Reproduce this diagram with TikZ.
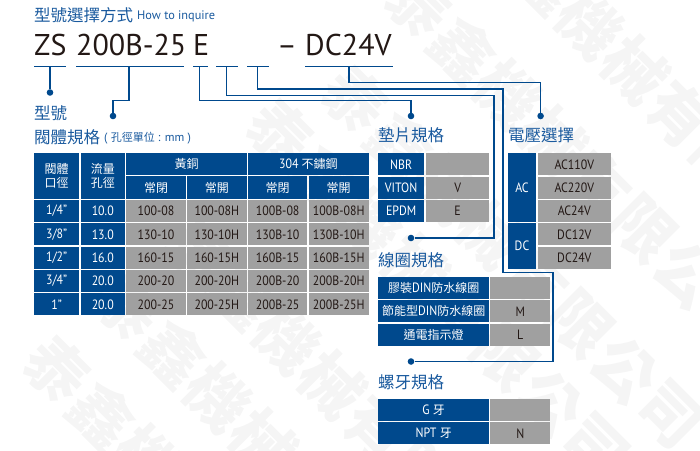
\documentclass[tikz,border=0pt]{standalone}
\usepackage{fontspec}
\setmainfont{PT Sans}[FakeStretch=0.88]
\newfontfamily\plainfont{PT Sans}
\newfontfamily\cjk{Noto Sans CJK TC}
\definecolor{bluecell}{HTML}{00498D}
\definecolor{graycell}{HTML}{A0A0A0}
\definecolor{titleblue}{HTML}{1A5A9E}
\definecolor{inkdark}{HTML}{231815}
\definecolor{wmark}{HTML}{F5F5F5}
\newcommand{\cellbox}[7]{%name,x0,y0,x1,y1,style,text
  \pgfmathsetmacro{\cw}{#4-#2}\pgfmathsetmacro{\chh}{#5-#3}
  \node[#6,minimum width=\cw pt,minimum height=\chh pt] (#1) at ({(#2+#4)/2},{(#3+#5)/2}) {#7};}
\newcommand{\wmband}[3]{%
  \foreach \ch [count=\i from 0] in {泰,鑫,機,械,有,限,公,司}{
    \node[wmtext] (wm#1-\i) at ({#2+45*\i},{#3+45*\i}) {\ch};}}
\tikzset{
  x=1pt,y=-1pt,
  wmtext/.style={rotate=-45,text=wmark,font=\cjk\bfseries\fontsize{62}{62}\selectfont,inner sep=0pt},
  bcell/.style={fill=bluecell,text=white,inner sep=0pt,align=center,font=\fontsize{13.5}{14}\selectfont},
  gcell/.style={fill=graycell,text=inkdark,inner sep=0pt,align=center,font=\fontsize{13.5}{14}\selectfont},
  sect/.style={text=titleblue,anchor=west,inner sep=0pt,font=\cjk\fontsize{16.5}{18}\selectfont},
  big/.style={text=inkdark,anchor=base west,inner sep=0pt,font=\plainfont\fontsize{30}{30}\selectfont},
  link/.style={draw=bluecell,line width=1.3pt},
  dot/.style={circle,fill=bluecell,inner sep=0pt,minimum size=6.6pt},
}
\newcommand{\ck}[1]{{\cjk\fontsize{12}{14}\selectfont #1}}
\begin{document}
\begin{tikzpicture}
\useasboundingbox (0,0) rectangle (700,450);
% watermark
\wmband{a}{500}{-65}
\wmband{g}{418}{5}
\wmband{b}{355}{100}
\wmband{f}{280}{133}
\wmband{c}{197}{250}
\wmband{d}{128}{308}
\wmband{e}{57}{370}
% heading
\node[sect] (head) at (34,15) {型號選擇方式};
\node[text=titleblue,anchor=west,inner sep=0pt,font=\plainfont\fontsize{12.3}{12}\selectfont] (headen) at (137,16.5) {How to inquire};
\node[big] (zs) at (34,55) {ZS};
\node[big] (model) at (76,55) {200B-25};
\node[big] (e) at (193,55) {E};
\node[big] (dash) at (277,55) {–};
\node[big] (dc) at (305,55) {DC24V};
% section titles
\node[sect] (t1) at (34,113) {型號};
\node[sect] (t2) at (34,137) {閥體規格};
\node[text=titleblue,anchor=west,inner sep=0pt,font=\plainfont\fontsize{12}{12}\selectfont] (t2b) at (104,138) {( {\cjk\fontsize{11}{12}\selectfont 孔徑單位} : mm )};
\node[sect] (t3) at (378,135) {墊片規格};
\node[sect] (t4) at (508,135) {電壓選擇};
\node[sect] (t5) at (378,260) {線圈規格};
\node[sect] (t6) at (378,382) {螺牙規格};
% main table
\cellbox{h1}{34}{153}{79.3}{198.7}{bcell}{\ck{閥體}\\\ck{口徑}}
\cellbox{h2}{80.5}{153}{125}{198.7}{bcell}{\ck{流量}\\\ck{孔徑}}
\cellbox{h3}{126.3}{153}{246.7}{175}{bcell}{\ck{黃銅}}
\cellbox{h4}{248}{153}{368.7}{175}{bcell}{304 \ck{不鏽鋼}}
\cellbox{s1}{126.3}{176.3}{185.7}{198.7}{bcell}{\ck{常閉}}
\cellbox{s2}{187}{176.3}{246.7}{198.7}{bcell}{\ck{常開}}
\cellbox{s3}{248}{176.3}{307.3}{198.7}{bcell}{\ck{常閉}}
\cellbox{s4}{308.7}{176.3}{368.7}{198.7}{bcell}{\ck{常開}}
\newcommand{\trow}[9]{%
  \cellbox{a#1}{34}{#2}{79.3}{#3}{bcell}{#4}
  \cellbox{b#1}{80.5}{#2}{125}{#3}{bcell}{#5}
  \cellbox{c#1}{126.3}{#2}{185.7}{#3}{gcell}{#6}
  \cellbox{d#1}{187}{#2}{246.7}{#3}{gcell}{#7}
  \cellbox{f#1}{248}{#2}{307.3}{#3}{gcell}{#8}
  \cellbox{g#1}{308.7}{#2}{368.7}{#3}{gcell}{#9}}
\trow{1}{200}{222}{1/4"}{10.0}{100-08}{100-08H}{100B-08}{100B-08H}
\trow{2}{223.3}{245.3}{3/8"}{13.0}{130-10}{130-10H}{130B-10}{130B-10H}
\trow{3}{246.7}{268.7}{1/2"}{16.0}{160-15}{160-15H}{160B-15}{160B-15H}
\trow{4}{270}{292}{3/4"}{20.0}{200-20}{200-20H}{200B-20}{200B-20H}
\trow{5}{293.3}{315.3}{1"}{20.0}{200-25}{200-25H}{200B-25}{200B-25H}
% gasket
\cellbox{g1a}{378.3}{153.3}{424}{175.3}{bcell}{NBR}
\cellbox{g1b}{426}{153.3}{489.3}{175.3}{gcell}{}
\cellbox{g2a}{378.3}{176.7}{424}{198.7}{bcell}{VITON}
\cellbox{g2b}{426}{176.7}{489.3}{198.7}{gcell}{V}
\cellbox{g3a}{378.3}{200}{424}{222}{bcell}{EPDM}
\cellbox{g3b}{426}{200}{489.3}{222}{gcell}{E}
% voltage
\cellbox{vac}{508}{153.3}{536}{222}{bcell}{AC}
\cellbox{vdc}{508}{223.3}{536}{268.7}{bcell}{DC}
\cellbox{v1}{538}{153.3}{610.7}{175.3}{gcell}{AC110V}
\cellbox{v2}{538}{176.7}{610.7}{198.7}{gcell}{AC220V}
\cellbox{v3}{538}{200}{610.7}{222}{gcell}{AC24V}
\cellbox{v4}{538}{223.3}{610.7}{245.3}{gcell}{DC12V}
\cellbox{v5}{538}{246.7}{610.7}{268.7}{gcell}{DC24V}
% coil
\cellbox{c1a}{378.3}{276.7}{489}{299}{bcell}{\ck{膠裝}DIN\ck{防水線圈}}
\cellbox{c1b}{490.3}{276.7}{550.3}{299}{gcell}{}
\cellbox{c2a}{378.3}{300.3}{489}{322.3}{bcell}{\ck{節能型}DIN\ck{防水線圈}}
\cellbox{c2b}{490.3}{300.3}{550.3}{322.3}{gcell}{M}
\cellbox{c3a}{378.3}{323.7}{489}{345.7}{bcell}{\ck{通電指示燈}}
\cellbox{c3b}{490.3}{323.7}{550.3}{345.7}{gcell}{L}
% thread
\cellbox{n1a}{378.3}{398.7}{489}{421}{bcell}{G \ck{牙}}
\cellbox{n1b}{490.3}{398.7}{550.3}{421}{gcell}{}
\cellbox{n2a}{378.3}{422.3}{489}{444.3}{bcell}{NPT \ck{牙}}
\cellbox{n2b}{490.3}{422.3}{550.3}{444.3}{gcell}{N}
% underlines
\coordinate (u1a) at (34,66.7);  \coordinate (u1b) at (66,66.7);  \coordinate (u1s) at (50,66.7);
\coordinate (u2a) at (76,66.7);  \coordinate (u2b) at (183.5,66.7); \coordinate (u2s) at (129,66.7);
\coordinate (u3a) at (193,66.7); \coordinate (u3b) at (207.5,66.7); \coordinate (u3s) at (199.5,66.7);
\coordinate (u4a) at (216,66.7); \coordinate (u4b) at (238,66.7); \coordinate (u4s) at (226.5,66.7);
\coordinate (u5a) at (247,66.7); \coordinate (u5b) at (268.5,66.7); \coordinate (u5s) at (257.5,66.7);
\coordinate (u6a) at (305,66.7); \coordinate (u6b) at (393,66.7); \coordinate (u6s) at (349,66.7);
\foreach \k in {1,...,6}{\draw[link] (u\k a) -- (u\k b);}
% dots
\node[dot] (d1) at (50,92.5) {};
\node[dot] (d2) at (113,116) {};
\node[dot] (d3) at (411,116) {};
\node[dot] (d4) at (411,238) {};
\node[dot] (d5) at (411,361.5) {};
\node[dot] (d6) at (540.6,116) {};
% bends
\coordinate (b2) at (129,100.7);
\coordinate (b3) at (411,100.7);
\coordinate (b4) at (494,95.5);
\coordinate (b5) at (503,89);
\coordinate (b5c) at (553,272.8);
\coordinate (b6) at (540.6,82.7);
\draw[link] (u1s) -- (d1);
\draw[link] (u2s) -- (b2) -| (d2);
\draw[link] (u3s) |- (b3) -- (d3);
\draw[link] (u4s) |- (b4) |- (d4);
\draw[link] (u5s) |- (b5) |- (b5c) |- (d5);
\draw[link] (u6s) |- (b6) -- (d6);
\end{tikzpicture}
\end{document}
